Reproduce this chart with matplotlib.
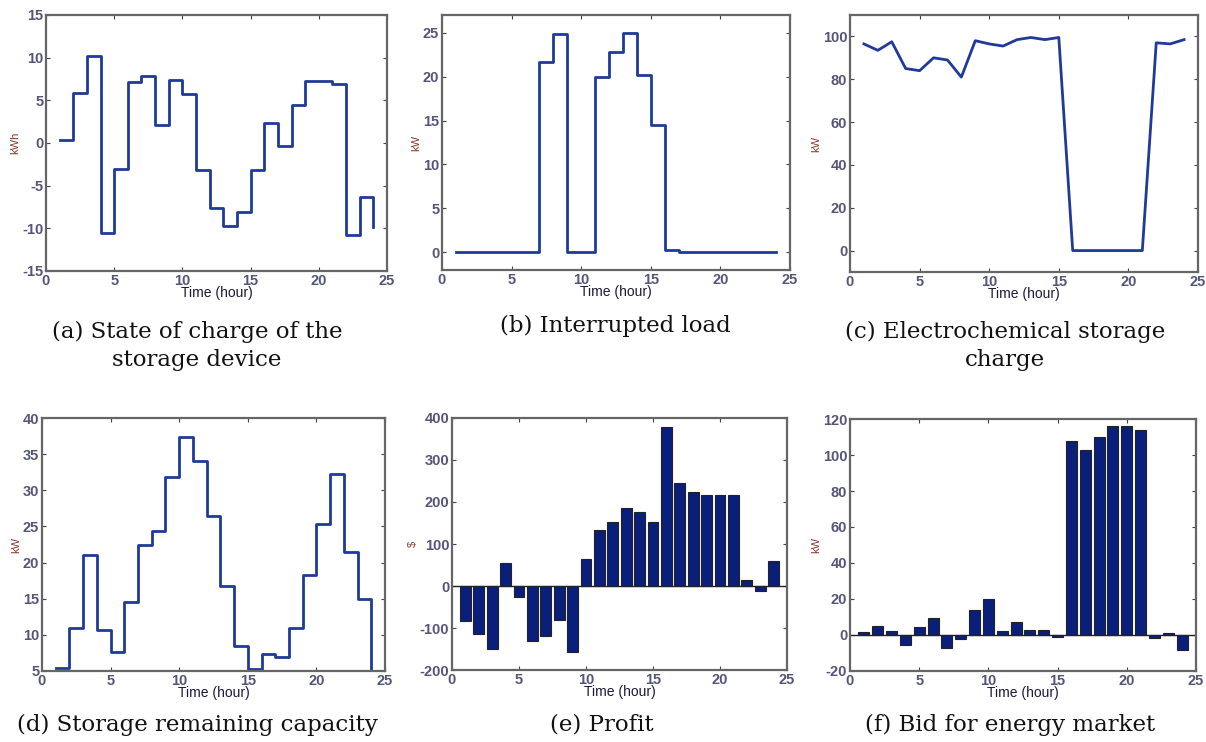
import numpy as np
import matplotlib.pyplot as plt

plt.rcParams["axes.unicode_minus"] = False

hours = np.arange(1, 25)

# (a) state of charge of the storage device, kWh
soc = [0.3, 5.9, 10.2, -10.5, -3.1, 7.1, 7.8, 2.1, 7.4, 5.7, -3.2, -7.6,
       -9.7, -8.1, -3.2, 2.3, -0.3, 4.4, 7.3, 7.3, 6.9, -10.8, -6.3, -9.9]
# (b) interrupted load, kW
interrupted = [0, 0, 0, 0, 0, 0, 21.7, 24.8, 0, 0, 20.0, 22.8,
               25.0, 20.2, 14.5, 0.3, 0, 0, 0, 0, 0, 0, 0, 0]
# (c) electrochemical storage charge, kW
ec_charge = [96.5, 93.5, 97.5, 85, 84, 90, 89, 81, 98, 96.5, 95.5, 98.5,
             99.5, 98.5, 99.5, 0, 0, 0, 0, 0, 0, 97, 96.5, 98.5]
# (d) storage remaining capacity, kW
remaining = [5.4, 11.0, 21.1, 10.7, 7.6, 14.6, 22.5, 24.4, 31.8, 37.4, 34.1, 26.4,
             16.7, 8.5, 5.3, 7.4, 6.9, 11.0, 18.3, 25.4, 32.3, 21.5, 14.9, 4.0]
# (e) profit, $
profit = [-83, -115, -150, 54, -27, -130, -120, -80, -157, 65, 133, 152,
          185, 177, 152, 378, 246, 225, 216, 216, 216, 14, -13, 59]
# (f) bid for energy market, kW
bid = [1.7, 5, 2.5, -5.5, 4.5, 9.5, -7, -2, 14, 20, 2.5, 7.5,
       3, 3, -1, 108, 103, 110, 116, 116, 114, -1.5, 1, -8.5]

captions = ["(a) State of charge of the\nstorage device",
            "(b) Interrupted load",
            "(c) Electrochemical storage\ncharge",
            "(d) Storage remaining capacity",
            "(e) Profit",
            "(f) Bid for energy market"]

W, H = 1206, 742
LINE = "#1f3a98"
BAR = "#0a1f7c"
TICK_COL = "#55557a"
YLAB_COL = "#8a3a2a"

fig = plt.figure(figsize=(W / 100, H / 100), dpi=100)


def make_ax(left, right, top, bottom):
    return fig.add_axes([left / W, 1 - bottom / H, (right - left) / W, (bottom - top) / H])


def style(ax, ylim, yticks, ylabel):
    ax.set_xlim(0, 25)
    ax.set_xticks(range(0, 26, 5))
    ax.set_ylim(*ylim)
    ax.set_yticks(yticks)
    ax.tick_params(direction="in", top=True, right=True, length=3, width=0.8,
                   color="#444444", labelsize=10.5, labelcolor=TICK_COL, pad=2)
    for lab in ax.get_xticklabels() + ax.get_yticklabels():
        lab.set_fontweight("bold")
        lab.set_family("Liberation Sans")
    for sp in ax.spines.values():
        sp.set_color("#666666")
        sp.set_linewidth(1.6)
    ax.set_xlabel("Time (hour)", fontsize=10, color="#1a1a3a", labelpad=-1,
                  family="Liberation Sans")
    ax.set_ylabel(ylabel, fontsize=8, color=YLAB_COL, labelpad=1,
                  family="Liberation Sans")


ax = make_ax(46, 387, 15, 271)
ax.step(hours, soc, where="post", color=LINE, lw=2)
style(ax, (-15, 15), range(-15, 16, 5), "kWh")

ax = make_ax(442, 790, 15, 270)
ax.step(hours, interrupted, where="post", color=LINE, lw=2)
style(ax, (-2, 27), range(0, 26, 5), "kW")

ax = make_ax(850, 1198, 15, 272)
ax.plot(hours, ec_charge, color=LINE, lw=2)
style(ax, (-10, 110), range(0, 101, 20), "kW")

ax = make_ax(42, 385, 418, 671)
ax.step(hours, remaining, where="post", color=LINE, lw=2)
style(ax, (5, 40), range(5, 41, 5), "kW")

ax = make_ax(452, 787, 418, 670)
ax.bar(hours, profit, width=0.8, color=BAR, edgecolor="#222222", lw=0.8)
ax.axhline(0, color="#222222", lw=1)
style(ax, (-200, 400), range(-200, 401, 100), "$")

ax = make_ax(850, 1196, 419, 671)
ax.bar(hours, bid, width=0.8, color=BAR, edgecolor="#222222", lw=0.8)
ax.axhline(0, color="#222222", lw=1)
style(ax, (-20, 120), range(-20, 121, 20), "kW")

# captions under each panel
cap_pos = [(197, 346), (615, 326), (1005, 346), (197, 725), (602, 725), (1010, 725)]
for (cx, cy), text in zip(cap_pos, captions):
    fig.text(cx / W, 1 - cy / H, text, ha="center", va="center",
             fontsize=16.5, family="DejaVu Serif", color="#111111", linespacing=1.3)

fig.savefig("out.png", dpi=100)
